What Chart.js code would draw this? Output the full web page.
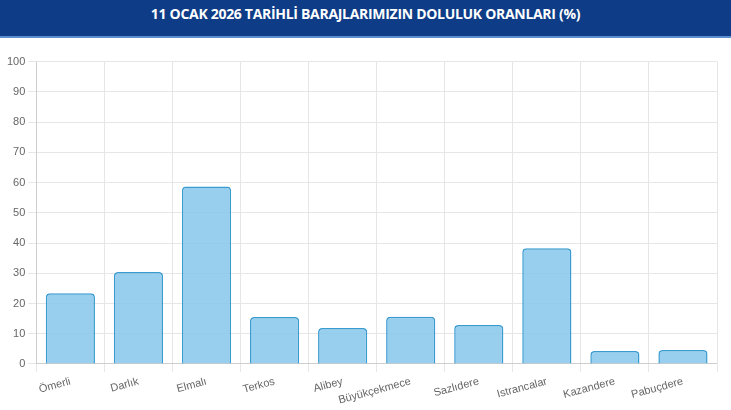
<!DOCTYPE html>
<html><head><meta charset="utf-8">
<script src="https://cdn.jsdelivr.net/npm/chart.js@4"></script>
<style>
html,body{margin:0;padding:0;background:#fff;width:731px;height:410px;overflow:hidden;font-family:Arial,"Liberation Sans",sans-serif}
#hdr{height:36px;background:#0e3c86;border-bottom:2px solid #5b8fd0;color:#fff;font:bold 14px "Open Sans",Arial,sans-serif;text-align:center;line-height:28px;letter-spacing:-0.3px}
#wrap{position:absolute;left:0;top:52px;width:731px;height:358px}
</style></head><body>
<div id="hdr">11 OCAK 2026 TARİHLİ BARAJLARIMIZIN DOLULUK ORANLARI (%)</div>
<div id="wrap"><canvas id="c"></canvas></div>
<script>
const categories=["Ömerli","Darlık","Elmalı","Terkos","Alibey","Büyükçekmece","Sazlıdere","Istrancalar","Kazandere","Pabuçdere"];
const values=[23.4,30.4,58.7,15.5,11.9,15.6,12.9,38.3,4.3,4.6];
new Chart(document.getElementById('c'),{type:'bar',
data:{labels:categories,datasets:[{data:values,backgroundColor:'rgba(135,199,235,0.85)',borderColor:'#3a9bd0',borderWidth:1.5,borderRadius:4,borderSkipped:'bottom',categoryPercentage:0.86,barPercentage:0.84}]},
options:{responsive:true,maintainAspectRatio:false,animation:false,
layout:{padding:{left:4,right:14,top:5,bottom:0}},
plugins:{legend:{display:false},tooltip:{enabled:false}},
scales:{y:{min:0,max:100,ticks:{stepSize:10,color:'#666',font:{size:11}},grid:{color:'#e6e6e6'}},
x:{ticks:{color:'#666',font:{size:11},maxRotation:15,minRotation:15},grid:{color:'#e6e6e6',offset:true}}}}});
</script></body></html>
